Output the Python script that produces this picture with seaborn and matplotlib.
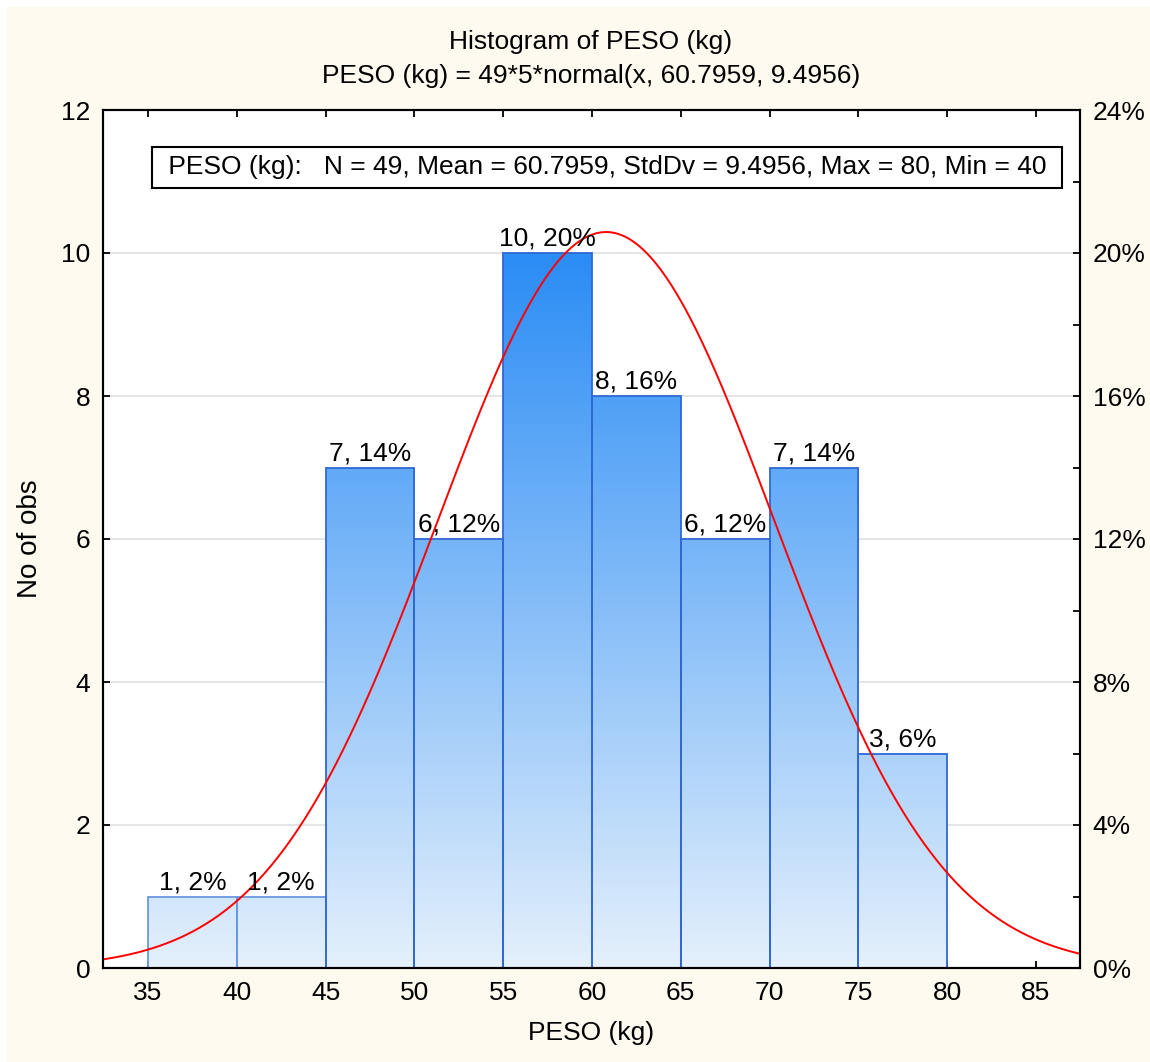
import numpy as np
import pandas as pd
import seaborn as sns
import matplotlib.pyplot as plt
from matplotlib.colors import LinearSegmentedColormap
from matplotlib.patches import Rectangle

# Histogram bins and observed counts for body weight
bin_edges = [35, 40, 45, 50, 55, 60, 65, 70, 75, 80]
counts = [1, 1, 7, 6, 10, 8, 6, 7, 3]
n_obs = 49
mean_w = 60.7959
sd_w = 9.4956
max_w = 80
min_w = 40
bin_width = 5

x_ticks = [35, 40, 45, 50, 55, 60, 65, 70, 75, 80, 85]
y_ticks = [0, 2, 4, 6, 8, 10, 12]
pct_ticks = [0, 4, 8, 12, 16, 20, 24]

sns.set_style("white")
plt.rcParams['font.family'] = ['Liberation Sans', 'DejaVu Sans']
plt.rcParams.update({"text.color": "black", "axes.labelcolor": "black",
                     "xtick.color": "black", "ytick.color": "black"})
FS = 19

mids = [(a + b) / 2 for a, b in zip(bin_edges[:-1], bin_edges[1:])]
df = pd.DataFrame({"peso": mids, "n": counts})

fig = plt.figure(figsize=(11.5, 10.62), dpi=100)
fig.patch.set_facecolor("white")
fig.patches.append(Rectangle((7 / 1150, 0), 1, 1 - 7 / 1062, transform=fig.transFigure,
                             facecolor="#FEFAF0", edgecolor="none", zorder=-10))

ax = fig.add_axes([103 / 1150, 94 / 1062, 977 / 1150, 858 / 1062])
ax.set_facecolor("white")

sns.histplot(data=df, x="peso", weights="n", bins=bin_edges, ax=ax,
             color="#5aa8f8", edgecolor="#2f68d4", linewidth=1.3, alpha=1, zorder=2)

# vertical gradient fill inside every bar (colour depends on the absolute height)
cmap = LinearSegmentedColormap.from_list("blues_grad", ["#e4f0fc", "#2a8cf5"])
for p in ax.patches:
    x0, y0 = p.get_x(), p.get_y()
    w, h = p.get_width(), p.get_height()
    if h <= 0:
        continue
    grad = np.linspace(0, h / 10.0, 256).reshape(-1, 1)
    im = ax.imshow(grad, cmap=cmap, vmin=0, vmax=1, aspect="auto", origin="lower",
                   extent=[x0, x0 + w, y0, y0 + h], zorder=2.1, interpolation="bilinear")
    im.set_clip_path(p)
    p.set_facecolor("none")
    p.set_zorder(2.2)
    ec = "#2f68d4" if h >= 3 else "#6a98e0"
    p.set_edgecolor(ec)

# value labels above bars
for m, c in zip(mids, counts):
    ax.annotate(f"{c}, {round(c / n_obs * 100)}%", (m, c), xytext=(0, 1.5),
                textcoords="offset points", ha="center", va="bottom", fontsize=FS,
                color="black", zorder=5)

# fitted normal curve scaled to counts
xs = np.linspace(32.5, 87.5, 600)
ys = n_obs * bin_width * np.exp(-0.5 * ((xs - mean_w) / sd_w) ** 2) / (sd_w * np.sqrt(2 * np.pi))
sns.lineplot(x=xs, y=ys, ax=ax, color="red", linewidth=1.4, zorder=4)

ax.set_xlim(32.47, 87.48)
ax.set_ylim(0, 12)
ax.set_xticks(x_ticks)
ax.set_yticks(y_ticks)
ax.yaxis.grid(True, color="#e0e0e0", linewidth=1.2, zorder=0)
ax.set_axisbelow(True)
ax.tick_params(axis="both", direction="in", length=5, width=1.3, labelsize=FS, pad=9,
               top=True, bottom=True, left=True, right=False, colors="black")
for s in ax.spines.values():
    s.set_visible(True)
    s.set_color("black")
    s.set_linewidth(1.5)

ax.set_xlabel("PESO (kg)", fontsize=FS, labelpad=12)
ax.set_ylabel("No of obs", fontsize=20, labelpad=13)

ax2 = ax.twinx()
ax2.set_ylim(0, 24)
ax2.set_yticks(pct_ticks)
ax2.set_yticklabels([f"{t}%" for t in pct_ticks])
ax2.set_yticks(np.arange(2, 24, 4), minor=True)
ax2.tick_params(axis="y", which="both", direction="in", width=1.3, labelsize=FS, pad=9,
                colors="black")
ax2.tick_params(axis="y", which="major", length=5)
ax2.tick_params(axis="y", which="minor", length=5)
for s in ax2.spines.values():
    s.set_color("black")
    s.set_linewidth(1.5)

ax.text(0.516, 0.933,
        f" PESO (kg):   N = {n_obs}, Mean = {mean_w}, StdDv = {sd_w}, Max = {max_w}, Min = {min_w} ",
        transform=ax.transAxes, ha="center", va="center", fontsize=FS, color="black", zorder=6,
        bbox=dict(boxstyle="square,pad=0.33", facecolor="white", edgecolor="black", linewidth=1.5))

fig.text(591 / 1150, 1 - 42 / 1062, "Histogram of PESO (kg)", ha="center", va="center",
         fontsize=FS, color="black")
fig.text(591 / 1150, 1 - 76 / 1062, f"PESO (kg) = {n_obs}*{bin_width}*normal(x, {mean_w}, {sd_w})",
         ha="center", va="center", fontsize=FS, color="black")

fig.savefig("out.png", dpi=100, facecolor=fig.get_facecolor())
